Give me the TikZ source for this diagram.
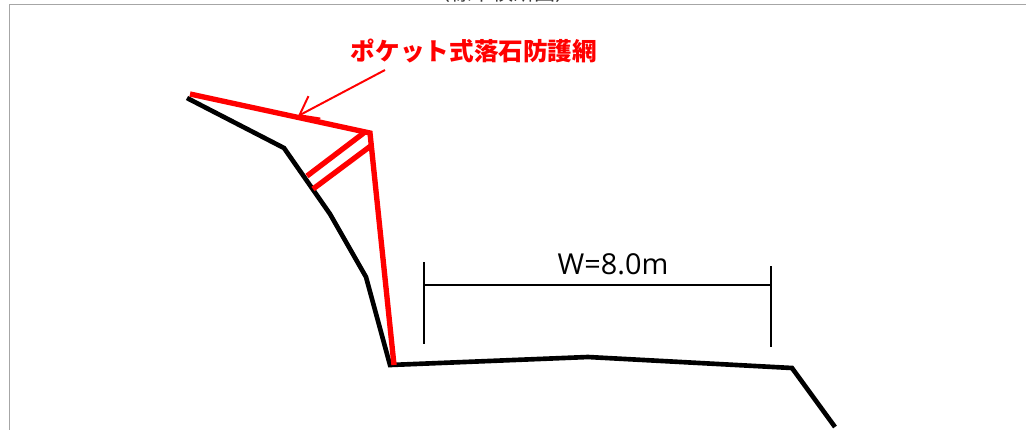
\documentclass[tikz,border=0pt]{standalone}
\usepackage{fontspec}
\setmainfont{Open Sans}
\newfontfamily\cjkfont{Noto Sans CJK JP}
\usetikzlibrary{arrows.meta}

\tikzset{
  ground/.style={black,line width=3.3pt,line join=miter},
  net/.style={red,line width=3.8pt},
  dimline/.style={black,line width=2pt},
  frameline/.style={black!35,line width=1pt},
}

\begin{document}
\begin{tikzpicture}[x=0.025cm,y=-0.025cm]
  \useasboundingbox (0,0) rectangle (1026,430);
  \clip (0,0) rectangle (1026,430);
  \node[anchor=base,font=\cjkfont\fontsize{15}{15}\selectfont,text=black!80] (caption) at (503,0.5) {（標準横断図）};
  \draw[frameline] (1026,4.5) -- (9.5,4.5) -- (9.5,430);

  % slope and road
  \draw[ground] (187,98) -- (284,148) -- (330,214) -- (366,277) -- (390,365) -- (588,357) -- (792,368) -- (835,427);

  % pocket net
  \draw[net] (190,94) -- (370,133) -- (394,365);
  \draw[net] (307,176) -- (365,132);
  \draw[net] (313,189) -- (372,145);

  % label
  \node[text=red,font=\cjkfont\bfseries\fontsize{17.5}{17.5}\selectfont] (netlabel) at (474,51) {ポケット式落石防護網};
  \coordinate (nettip) at (298,116);
  \draw[red,line width=1.4pt,-{Straight Barb[length=12pt,width=18pt]}] (385,70) -- (nettip);

  % width
  \coordinate (wleft) at (424,285);
  \coordinate (wright) at (771,285);
  \draw[dimline] (wleft) -- (wright);
  \draw[dimline] (424,262) -- (424,344);
  \draw[dimline] (771,266) -- (771,347);
  \node[font=\fontsize{20.5}{20.5}\selectfont] (wlabel) at (613,264) {W=8.0m};
\end{tikzpicture}
\end{document}
